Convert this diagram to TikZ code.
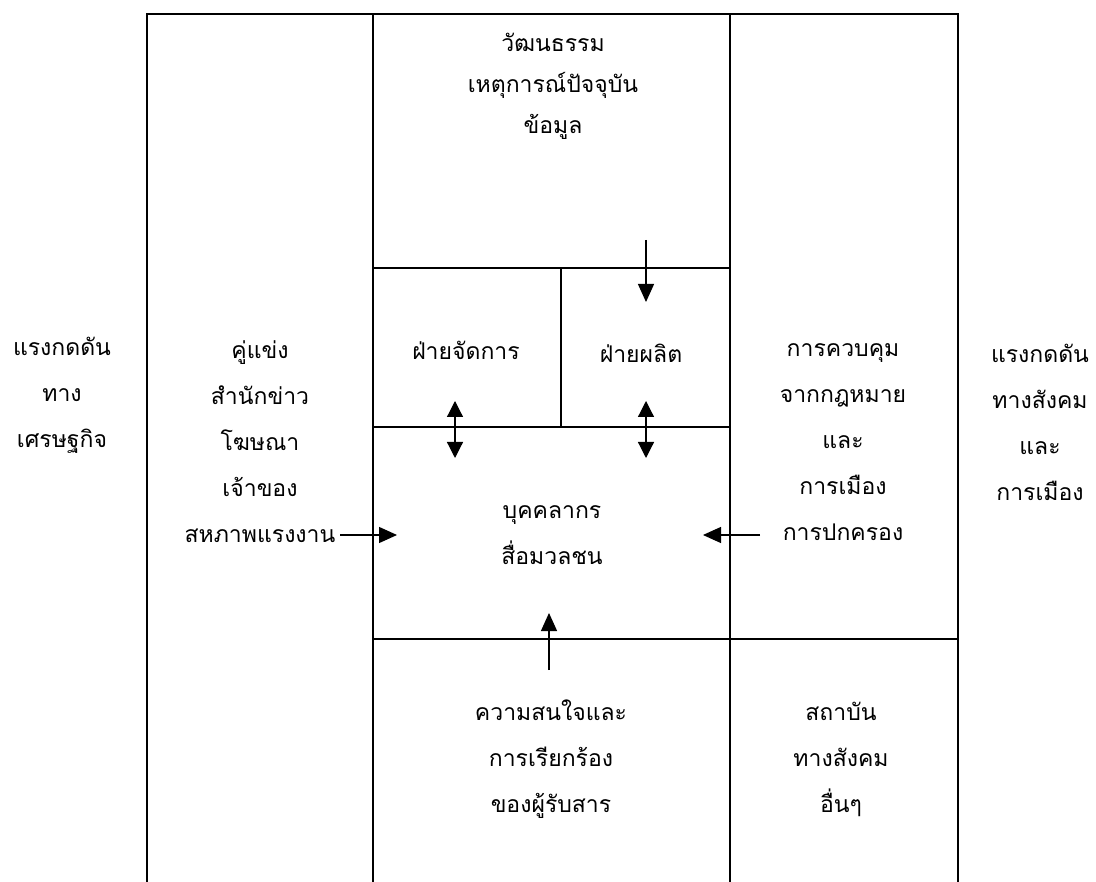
\documentclass[tikz,border=0pt]{standalone}
\usepackage{fontspec}
\newfontfamily\thaifont[Script=Thai]{Loma}
\usetikzlibrary{arrows.meta}
\begin{document}
\begin{tikzpicture}[x=1pt,y=-1pt,
  frame/.style={line width=1.4pt, black},
  flow/.style={line width=1.2pt, -{Triangle[length=18pt,width=16pt]}},
  twoway/.style={line width=1.2pt, {Triangle[length=16pt,width=16pt]}-{Triangle[length=16pt,width=16pt]}},
  txt/.style={font=\thaifont\fontsize{23}{46}\selectfont, align=center, inner sep=0pt}]
\useasboundingbox[fill=white] (0,0) rectangle (1096,882);

% outer frame, open at the bottom
\draw[frame] (147,882) -- (147,14) -- (958,14) -- (958,882);
% column dividers
\draw[frame] (373,14) -- (373,882);
\draw[frame] (730,14) -- (730,882);
% rows of the middle column
\draw[frame] (373,268) -- (730,268);
\draw[frame] (373,427) -- (730,427);
\draw[frame] (373,639) -- (958,639);
\draw[frame] (561,268) -- (561,427);

% texts
\node[txt, font=\thaifont\fontsize{23}{41}\selectfont] (culture) at (553,86) {วัฒนธรรม\\เหตุการณ์ปัจจุบัน\\ข้อมูล};
\node[txt] (mgmt) at (466,350) {ฝ่ายจัดการ};
\node[txt] (prod) at (641,353) {ฝ่ายผลิต};
\node[txt] (staff) at (552,535) {บุคคลากร\\สื่อมวลชน};
\node[txt] (compet) at (260,442) {คู่แข่ง\\สำนักข่าว\\โฆษณา\\เจ้าของ\\สหภาพแรงงาน};
\node[txt] (control) at (843,442) {การควบคุม\\จากกฎหมาย\\และ\\การเมือง\\การปกครอง};
\node[txt] (econ) at (62,395) {แรงกดดัน\\ทาง\\เศรษฐกิจ};
\node[txt] (social) at (1040,422) {แรงกดดัน\\ทางสังคม\\และ\\การเมือง};
\node[txt] (audience) at (551,759) {ความสนใจและ\\การเรียกร้อง\\ของผู้รับสาร};
\node[txt] (inst) at (841,759) {สถาบัน\\ทางสังคม\\อื่นๆ};

% arrow end points
\coordinate (cultureOut) at (646,240);
\coordinate (prodIn) at (646,302);
\coordinate (mgmtTop) at (455,401);
\coordinate (mgmtBot) at (455,458);
\coordinate (prodTop) at (646,401);
\coordinate (prodBot) at (646,458);
\coordinate (competOut) at (340,535);
\coordinate (staffW) at (397,535);
\coordinate (controlOut) at (760,535);
\coordinate (staffE) at (703,535);
\coordinate (audienceOut) at (549,670);
\coordinate (staffS) at (549,613);

% connectors
\draw[flow] (cultureOut) -- (prodIn);
\draw[twoway] (mgmtTop) -- (mgmtBot);
\draw[twoway] (prodTop) -- (prodBot);
\draw[flow] (competOut) -- (staffW);
\draw[flow] (controlOut) -- (staffE);
\draw[flow] (audienceOut) -- (staffS);
\end{tikzpicture}
\end{document}
